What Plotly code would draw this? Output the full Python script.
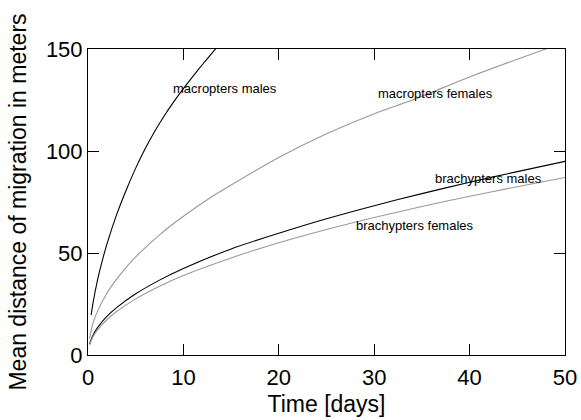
import plotly.graph_objects as go

# Time [days] and mean migration distance [m]
mm_t = [0.33, 0.5, 1, 1.5, 2, 3, 4, 5, 6, 7, 8, 9, 10, 11, 12, 13, 14]
mm_y = [19.6, 24.8, 36.8, 46.3, 54.6, 68.8, 80.8, 91.6, 101.2, 109.7, 117.3, 124.2, 130.6, 136.6, 142.4, 148, 153.4]

mf_t = [0.16, 0.5, 1, 2, 3, 4, 5, 7.5, 10, 12.5, 15, 20, 25, 30, 34, 40, 45, 48, 50]
mf_y = [8, 15.2, 21.5, 30.4, 37.2, 43, 48.1, 58.9, 68, 76.1, 83.3, 96.8, 108.4, 118.3, 125, 136.3, 145, 150, 153.1]

bm_t = [0.16, 0.5, 1, 2, 3, 5, 7.5, 10, 15, 20, 25, 30, 35, 40, 45, 50]
bm_y = [5.4, 9.5, 13.4, 19, 23.2, 30, 36.7, 42.4, 52, 59.7, 66.8, 73.2, 79.1, 84.7, 89.9, 94.9]

bf_t = [0.16, 0.5, 1, 2, 3, 5, 7.5, 10, 15, 20, 25, 30, 35, 40, 45, 50]
bf_y = [5.0, 8.7, 12.3, 17.4, 21.3, 27.5, 33.7, 39.0, 47.6, 55.0, 61.5, 67.4, 72.8, 77.8, 82.5, 87.0]

labels = ["macropters males", "macropters females", "brachypters males", "brachypters females"]
label_x = [14.4, 36.4, 42.0, 34.3]
label_y = [130.6, 128.1, 86.4, 63.5]

x_ticks = [0, 10, 20, 30, 40, 50]
y_ticks = [0, 50, 100, 150]

FONT = "Liberation Sans, Arial, sans-serif"
BLACK = "#000000"
GRAY = "#999999"

fig = go.Figure()
series = [
    (mm_t, mm_y, BLACK, labels[0]),
    (mf_t, mf_y, GRAY, labels[1]),
    (bm_t, bm_y, BLACK, labels[2]),
    (bf_t, bf_y, GRAY, labels[3]),
]
for t, y, c, name in series:
    fig.add_trace(go.Scatter(x=t, y=y, mode="lines", name=name,
                             line=dict(color=c, width=1.1, shape="spline", smoothing=0.8),
                             showlegend=False, hoverinfo="skip"))

for txt, x, y in zip(labels, label_x, label_y):
    fig.add_annotation(x=x, y=y, text=txt, showarrow=False,
                       font=dict(family=FONT, size=13, color=BLACK),
                       xanchor="center", yanchor="middle")

axis_common = dict(showgrid=False, zeroline=False, showline=True, linecolor=BLACK, linewidth=1,
                   mirror="ticks", ticks="inside", ticklen=11, tickwidth=1, tickcolor=BLACK,
                   automargin=False,
                   tickfont=dict(family=FONT, size=22, color=BLACK))

fig.update_xaxes(range=[0, 50], tickvals=x_ticks, ticklabelstandoff=3,
                 title=dict(text="Time [days]", font=dict(family=FONT, size=23, color=BLACK), standoff=6),
                 **axis_common)
fig.update_yaxes(range=[0, 150], tickvals=y_ticks,
                 title=dict(text="Mean distance of migration in meters", font=dict(family=FONT, size=23, color=BLACK), standoff=12),
                 **axis_common)

fig.update_layout(width=581, height=420, margin=dict(l=88, r=16, t=49, b=65),
                  plot_bgcolor="white", paper_bgcolor="white",
                  font=dict(family=FONT, color=BLACK))

fig.write_html("out.html", config={"displayModeBar": False},
               post_script="document.body.style.margin='0';")
